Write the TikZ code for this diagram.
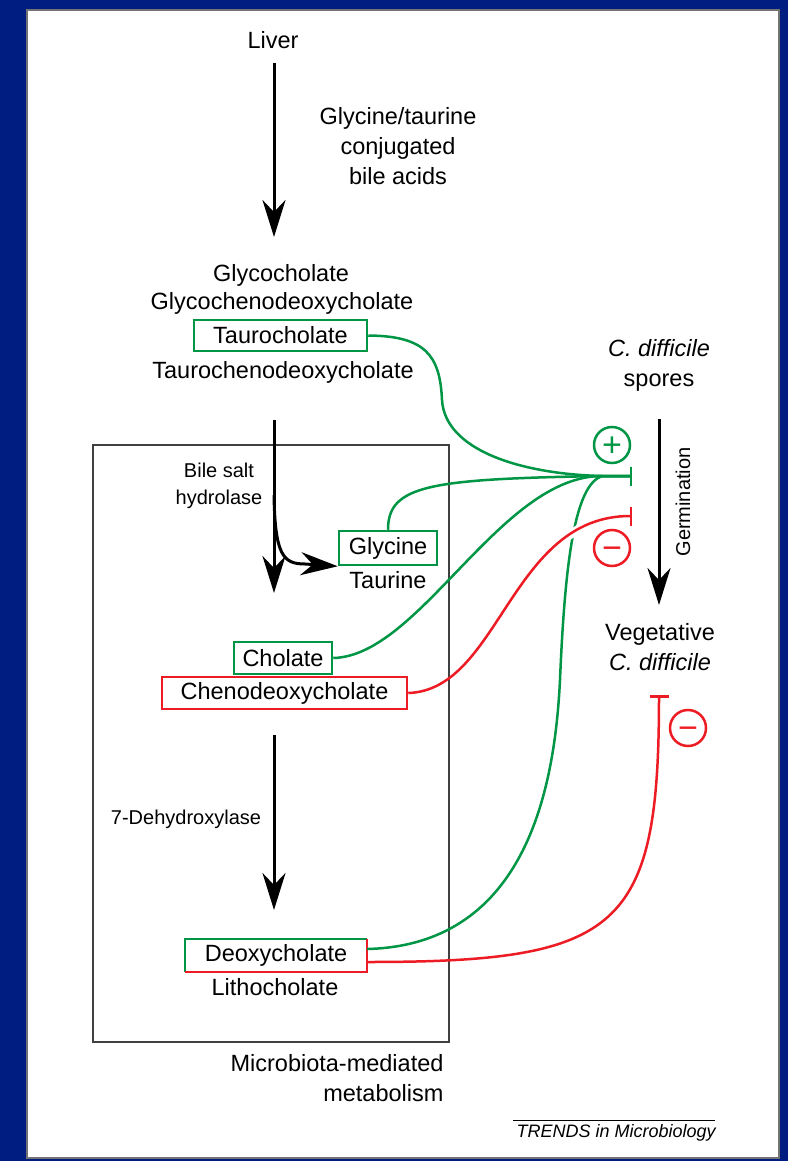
\documentclass[tikz,border=0pt]{standalone}
\usepackage{fontspec}
\setmainfont{Liberation Sans}
\usetikzlibrary{arrows.meta}
\definecolor{slideblue}{RGB}{0,30,130}
\definecolor{bagreen}{RGB}{0,150,70}
\definecolor{bared}{RGB}{237,28,36}
\tikzset{
  lbl/.style={font=\fontsize{23.5}{30}\selectfont, align=center},
  enzyme/.style={font=\fontsize{20}{27}\selectfont, align=center},
  acid/.style={lbl, draw, line width=2.5pt, inner sep=0pt},
  flow/.style={line width=3pt, -{Stealth[length=37pt, width=23pt, inset=12pt]}},
  inhibit/.style={line width=2.5pt, -{Bar[width=19pt]}},
  signring/.style={circle, draw, line width=2.5pt, minimum size=36pt, inner sep=0pt, text height=23.8pt, text depth=0pt, font=\fontsize{34}{34}\selectfont}
}
\begin{document}
\begin{tikzpicture}[x=1pt, y=-1pt]
\useasboundingbox (0,0) rectangle (788,1161);
\fill[slideblue] (0,0) rectangle (788,1161);
\filldraw[fill=white, draw=black!55, line width=2pt] (27,10) rectangle (779,1158);
\draw[line width=1.5pt, black!75] (93,445) rectangle (449,1042);

\node[lbl](liver) at (273,40) {Liver};
\node[lbl](conj) at (398,146) {Glycine/taurine\\conjugated\\bile acids};
\node[lbl](glycochol) at (281,275) {Glycocholate};
\node[lbl](glycocheno) at (282,303) {Glycochenodeoxycholate};
\node[acid, draw=bagreen, minimum width=173pt, minimum height=31pt](tauro) at (280.5,335.5) {Taurocholate};
\node[lbl](taurocheno) at (283,372) {Taurochenodeoxycholate};
\node[enzyme](bsh) at (219,486) {Bile salt\\hydrolase};
\node[acid, draw=bagreen, minimum width=98pt, minimum height=34pt](glycine) at (388,548) {Glycine};
\node[lbl](taurine) at (388,580) {Taurine};
\node[acid, draw=bagreen, minimum width=98pt, minimum height=32pt](cholate) at (283,658) {Cholate};
\node[acid, draw=bared, minimum width=245pt, minimum height=32pt](cheno) at (284.5,693) {Chenodeoxycholate};
\node[enzyme](dehyd) at (186,819) {7-Dehydroxylase};
\node[lbl, minimum width=182pt, minimum height=33pt, inner sep=0pt](deoxy) at (276,955.5) {Deoxycholate};
\node[lbl](litho) at (275,987) {Lithocholate};
\node[lbl, align=right, anchor=east](micro) at (447,1078) {Microbiota-mediated\\metabolism};
\node[lbl](spores) at (659,365) {\textit{C. difficile}\\spores};
\node[lbl](veg) at (660,647.5) {Vegetative\\\textit{C. difficile}};
\node[enzyme, rotate=90](germ) at (683,502) {Germination};
\node[anchor=west, font=\fontsize{18}{18}\selectfont\itshape](trends) at (513,1133) {TRENDS in Microbiology};
\draw[line width=1pt] (513,1120) -- (715,1120);

\draw[bagreen, line width=2.5pt] (deoxy.south west) -- (deoxy.north west) -- (deoxy.north east);
\draw[bared, line width=2.5pt] (deoxy.north east) -- (deoxy.south east) -- (deoxy.south west);

\coordinate (bileIn) at (274,63);
\coordinate (bileOut) at (274,237);
\coordinate (bshIn) at (274,420);
\coordinate (bshOut) at (274,593);
\coordinate (bshFork) at (274,495);
\coordinate (dhIn) at (274,735);
\coordinate (dhOut) at (274,910);
\coordinate (germIn) at (659,419);
\coordinate (germOut) at (659,605);
\coordinate (hub) at (602,476);
\coordinate (plusbar) at (632,476);
\coordinate (minusbar) at (632,516);
\coordinate (vegbar) at (659,695);

\draw[flow] (bileIn) -- (bileOut);
\draw[flow] (bshIn) -- (bshOut);
\draw[flow] (bshFork) .. controls (275,555) and (283,564) .. (305,564) -- (glycine.south west);
\draw[flow] (dhIn) -- (dhOut);
\draw[flow] (germIn) -- (germOut);

\draw[inhibit, bagreen] (tauro.east) .. controls (425,336) and (440,355) .. (442,400) .. controls (445,450) and (520,474) .. (hub) -- (plusbar);
\draw[inhibit, bagreen] (glycine.north) .. controls (388,485) and (430,479) .. (hub) -- (plusbar);
\draw[inhibit, bagreen] (cholate.east) .. controls (420,656) and (500,476) .. (hub) -- (plusbar);
\draw[inhibit, bagreen] ([yshift=6.5pt]deoxy.east) .. controls (530,945) and (555,780) .. (560,680) .. controls (565,560) and (575,485) .. (hub) -- (plusbar);

\begin{scope}
\clip (560,505) rectangle (590,540);
\draw[white, line width=9pt] (cheno.east) .. controls (500,690) and (510,516) .. (minusbar);
\end{scope}
\draw[inhibit, bared] (cheno.east) .. controls (500,690) and (510,516) .. (minusbar);
\draw[inhibit, bared] ([yshift=-6.5pt]deoxy.east) .. controls (620,962) and (659,930) .. (vegbar);

\node[signring, draw=bagreen, text=bagreen](plus) at (612,445) {+};
\node[signring, draw=bared, text=bared](minus) at (612,548) {−};
\node[signring, draw=bared, text=bared](vegminus) at (688,728) {−};
\end{tikzpicture}
\end{document}
